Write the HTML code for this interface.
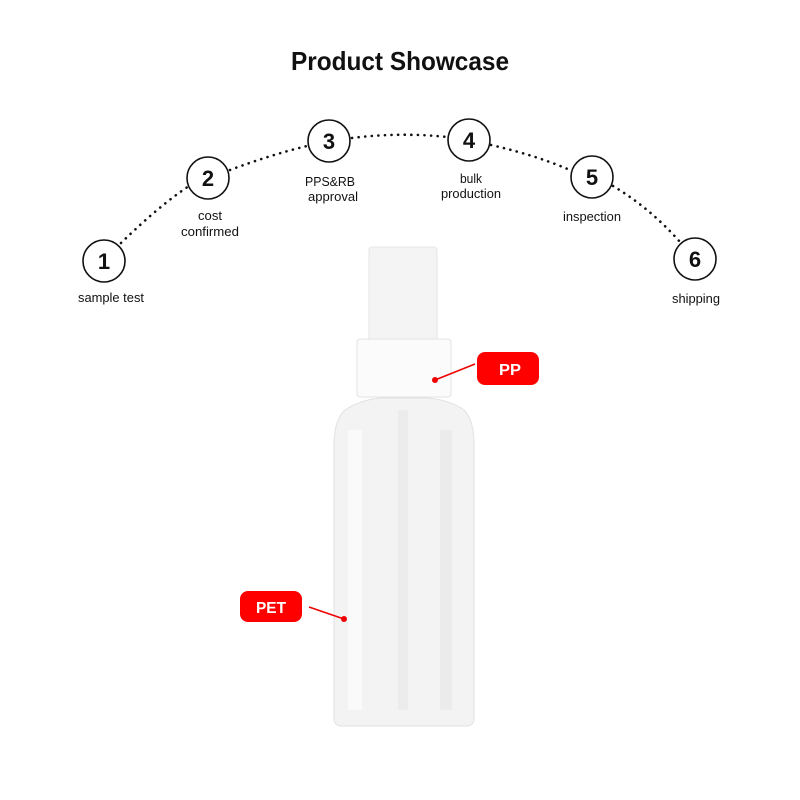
<!DOCTYPE html>
<html><head><style>
body{margin:0;background:#fff;}
svg{display:block}
</style></head><body>
<svg width="800" height="800" viewBox="0 0 800 800" xmlns="http://www.w3.org/2000/svg" font-family="Liberation Sans, Arial, sans-serif">
<rect width="800" height="800" fill="#fff"/>
<text x="291" y="70" font-size="26" font-weight="bold" fill="#111" textLength="218" lengthAdjust="spacingAndGlyphs">Product Showcase</text>
<g fill="none" stroke="#111" stroke-width="2.6" stroke-dasharray="0.1 6.5" stroke-linecap="round">
<path d="M121,243 Q160,205 189,186"/>
<path d="M230,170 Q270,155 307,146"/>
<path d="M352,138 Q400,132 447,137"/>
<path d="M491,145 Q535,155 570,170"/>
<path d="M613,186 Q650,208 680,242"/>
</g>
<g fill="#fff" stroke="#111" stroke-width="1.6">
<circle cx="104" cy="261" r="21"/><circle cx="208" cy="178" r="21"/>
<circle cx="329" cy="141" r="21"/><circle cx="469" cy="140" r="21"/>
<circle cx="592" cy="177" r="21"/><circle cx="695" cy="259" r="21"/>
</g>
<g font-size="22" font-weight="bold" text-anchor="middle" fill="#111">
<text x="104" y="269">1</text><text x="208" y="186">2</text><text x="329" y="149">3</text>
<text x="469" y="148">4</text><text x="592" y="185">5</text><text x="695" y="267">6</text>
</g>
<g font-size="13" text-anchor="middle" fill="#111">
<text x="111" y="302" textLength="66" lengthAdjust="spacingAndGlyphs">sample test</text>
<text x="210" y="220" textLength="24" lengthAdjust="spacingAndGlyphs">cost</text><text x="210" y="236" textLength="58" lengthAdjust="spacingAndGlyphs">confirmed</text>
<text x="330" y="186" textLength="50" lengthAdjust="spacingAndGlyphs">PPS&amp;RB</text><text x="333" y="201" textLength="50" lengthAdjust="spacingAndGlyphs">approval</text>
<text x="471" y="183" textLength="22" lengthAdjust="spacingAndGlyphs">bulk</text><text x="471" y="198" textLength="60" lengthAdjust="spacingAndGlyphs">production</text>
<text x="592" y="221" textLength="58" lengthAdjust="spacingAndGlyphs">inspection</text>
<text x="696" y="303" textLength="48" lengthAdjust="spacingAndGlyphs">shipping</text>
</g>
<!-- bottle -->
<rect x="369" y="247" width="68" height="94" rx="3" fill="#f4f4f4" stroke="#e6e6e6"/>
<rect x="357" y="339" width="94" height="58" rx="3" fill="#fbfbfb" stroke="#e3e3e3"/>
<path d="M345,410 Q360,400 380,398 L428,398 Q450,400 464,410 Q474,420 474,445 L474,718 Q474,726 466,726 L342,726 Q334,726 334,718 L334,445 Q334,420 345,410 Z" fill="#f3f3f3" stroke="#e2e2e2"/>
<rect x="348" y="430" width="14" height="280" fill="#fafafa"/>
<rect x="398" y="410" width="10" height="300" fill="#ececec"/>
<rect x="440" y="430" width="12" height="280" fill="#ebebeb"/>
<!-- callouts -->
<line x1="435" y1="380" x2="475" y2="364" stroke="#e00" stroke-width="1.5"/>
<circle cx="435" cy="380" r="3" fill="#e00"/>
<rect x="477" y="352" width="62" height="33" rx="8" fill="#f00"/>
<text x="510" y="375" text-anchor="middle" font-size="16" font-weight="bold" fill="#fff" textLength="22" lengthAdjust="spacingAndGlyphs">PP</text>
<line x1="309" y1="607" x2="344" y2="619" stroke="#e00" stroke-width="1.5"/>
<circle cx="344" cy="619" r="3" fill="#e00"/>
<rect x="240" y="591" width="62" height="31" rx="8" fill="#f00"/>
<text x="271" y="613" text-anchor="middle" font-size="16" font-weight="bold" fill="#fff" textLength="30" lengthAdjust="spacingAndGlyphs">PET</text>
</svg>
</body></html>
